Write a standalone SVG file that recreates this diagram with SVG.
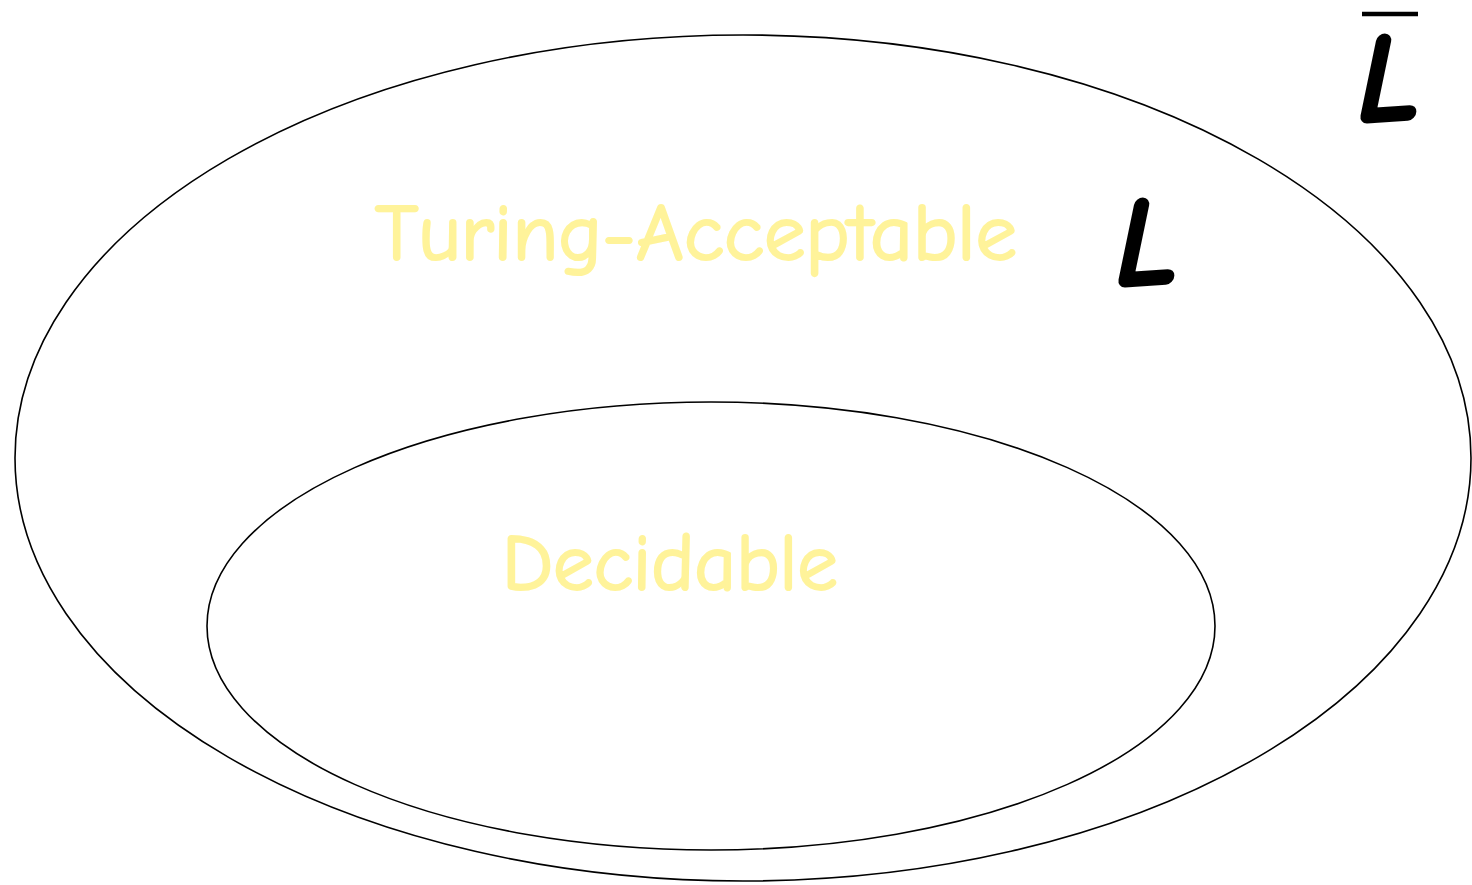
<svg xmlns="http://www.w3.org/2000/svg" width="1472" height="885" viewBox="0 0 1472 885">
  <style>
    .set { fill: none; stroke: #000; stroke-width: 1.6; }
    .label { font-family: "Comic Neue", "Open Sans", "Noto Sans", sans-serif; font-size: 80px; fill: #FFF39A; stroke: #FFF39A; stroke-width: 2.2; stroke-linejoin: round; }
    .lang { font-family: "Comic Neue", "Open Sans", "Noto Sans", sans-serif; font-size: 128px; font-weight: bold; font-style: italic; fill: #000; stroke: #000; stroke-width: 3; stroke-linejoin: round; }
  </style>
  <rect width="1472" height="885" fill="#fff"/>
  <g id="turing-acceptable">
    <ellipse class="set" cx="743" cy="458" rx="728" ry="423"/>
    <text class="label" x="375" y="260" textLength="642" lengthAdjust="spacingAndGlyphs">Turing-Acceptable</text>
  </g>
  <g id="decidable">
    <ellipse class="set" cx="711" cy="626" rx="504" ry="224"/>
    <text class="label" x="502" y="590" textLength="336" lengthAdjust="spacingAndGlyphs">Decidable</text>
  </g>
  <g id="lang-L">
    <text class="lang" x="1116" y="285" textLength="62" lengthAdjust="spacingAndGlyphs">L</text>
  </g>
  <g id="lang-L-complement">
    <line x1="1362" y1="14" x2="1418" y2="14" stroke="#000" stroke-width="4.5"/>
    <text class="lang" x="1358" y="121" textLength="62" lengthAdjust="spacingAndGlyphs">L</text>
  </g>
</svg>
